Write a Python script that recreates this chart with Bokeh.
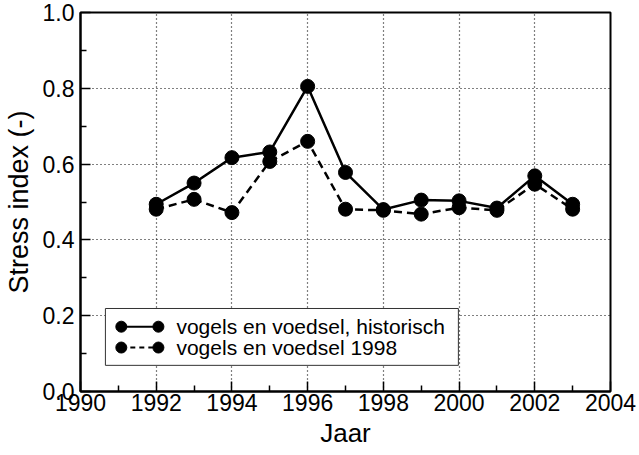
from bokeh.plotting import figure
from bokeh.models import Range1d, FixedTicker
from bokeh.embed import file_html
from bokeh.resources import INLINE
from bokeh.core.properties import value

# ---- data ----
years = [1992, 1993, 1994, 1995, 1996, 1997, 1998, 1999, 2000, 2001, 2002, 2003]
historisch = [0.494, 0.550, 0.617, 0.632, 0.805, 0.578, 0.480, 0.505, 0.503, 0.484, 0.569, 0.494]
voedsel_1998 = [0.481, 0.507, 0.472, 0.607, 0.660, 0.481, 0.478, 0.468, 0.485, 0.478, 0.547, 0.481]

series_labels = ["vogels en voedsel, historisch", "vogels en voedsel 1998"]

x_ticks = [1990, 1992, 1994, 1996, 1998, 2000, 2002, 2004]
x_minor = [1991, 1993, 1995, 1997, 1999, 2001, 2003]
y_ticks = [0.0, 0.2, 0.4, 0.6, 0.8, 1.0]
y_tick_labels = ["0.0", "0.2", "0.4", "0.6", "0.8", "1.0"]
y_minor = [0.1, 0.3, 0.5, 0.7, 0.9]

X0, X1 = 1990, 2004
Y0, Y1 = 0.0, 1.0

FONT = "Liberation Sans"

p = figure(frame_width=530, frame_height=379,
           x_range=Range1d(X0, X1), y_range=Range1d(Y0, Y1),
           output_backend="svg", toolbar_location=None,
           min_border_left=74, min_border_top=12, min_border_right=26,
           min_border_bottom=56)

p.xaxis.ticker = FixedTicker(ticks=x_ticks, minor_ticks=x_minor)
p.yaxis.ticker = FixedTicker(ticks=y_ticks, minor_ticks=y_minor)
p.yaxis.major_label_overrides = {t: l for t, l in zip(y_ticks, y_tick_labels)}
p.xaxis.major_label_overrides = {t: str(t) for t in x_ticks}

p.xaxis.axis_label = "Jaar"
p.yaxis.axis_label = "Stress index (-)"
for ax in (p.xaxis, p.yaxis):
    ax.axis_label_text_font = FONT
    ax.axis_label_text_font_style = "normal"
    ax.axis_label_text_color = "black"
    ax.major_label_text_font = FONT
    ax.major_label_text_font_size = "23px"
    ax.major_label_text_color = "black"
    ax.axis_line_width = 2
    ax.axis_line_color = "black"
    ax.major_tick_in = 10
    ax.major_tick_out = 0
    ax.minor_tick_in = 6
    ax.minor_tick_out = 0
    ax.major_tick_line_width = 1.5
    ax.minor_tick_line_width = 1.5
    ax.major_tick_line_color = "black"
    ax.minor_tick_line_color = "black"
p.xaxis.axis_label_text_font_size = "26px"
p.yaxis.axis_label_text_font_size = "27px"
p.xaxis.major_label_standoff = 2
p.yaxis.major_label_standoff = 6
p.xaxis.axis_label_standoff = 4
p.yaxis.axis_label_standoff = 6

p.outline_line_color = "black"
p.outline_line_width = 2
p.outline_line_alpha = 1

for g in (p.xgrid, p.ygrid):
    g.grid_line_color = "black"
    g.grid_line_dash = "1 3"
    g.grid_line_width = 1.2

# data series
p.line(years, historisch, line_color="black", line_width=2.5)
p.scatter(years, historisch, size=14, marker="circle", fill_color="black", line_color="black")
p.line(years, voedsel_1998, line_color="black", line_width=2.5, line_dash="8 5")
p.scatter(years, voedsel_1998, size=14, marker="circle", fill_color="black", line_color="black")

# ---- legend (layout as fractions of the frame) ----
def fx(f):
    return X0 + f * (X1 - X0)

def fy(f):
    return Y0 + f * (Y1 - Y0)

p.quad(left=[fx(0.047)], right=[fx(0.713)], bottom=[fy(0.069)], top=[fy(0.219)],
       fill_color="white", line_color="#333333", line_width=1)
rows = [fy(0.171), fy(0.116)]
dashes = ["solid", "5 4"]
for lab, yy, dash in zip(series_labels, rows, dashes):
    p.line([fx(0.077), fx(0.147)], [yy, yy], line_color="black", line_width=2, line_dash=dash)
    p.scatter([fx(0.077), fx(0.147)], [yy, yy], size=11, marker="circle",
              fill_color="black", line_color="black")
    p.text([fx(0.181)], [yy], text=[lab], text_font=value(FONT), text_font_size="21px",
           text_baseline="middle", text_align="left", text_color="black")

open("out.html", "w").write(file_html(p, INLINE))
